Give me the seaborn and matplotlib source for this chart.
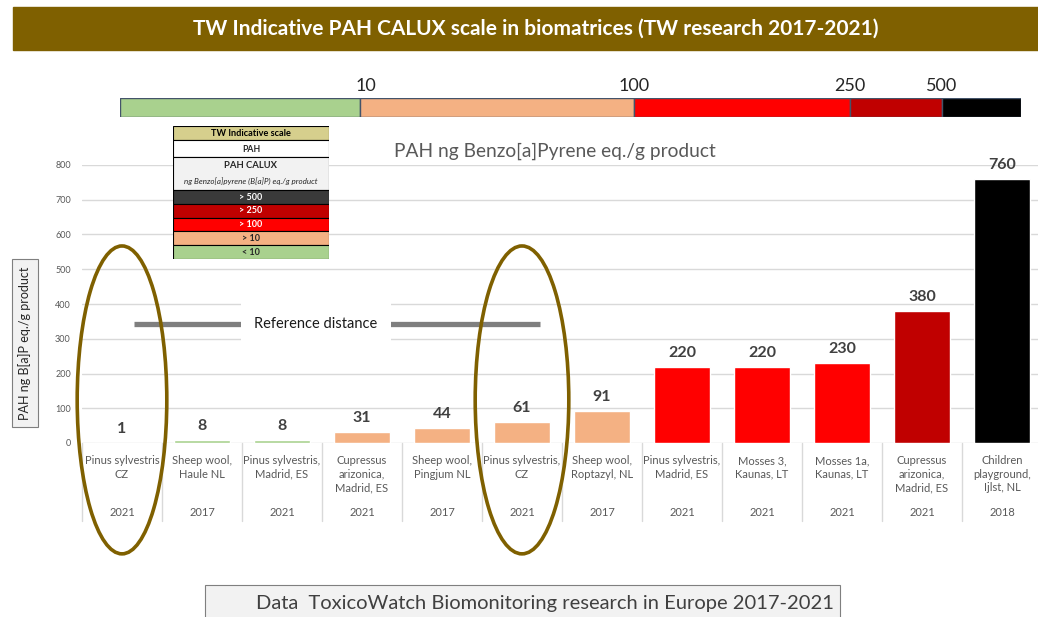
import numpy as np
import pandas as pd
import matplotlib
matplotlib.use("Agg")
import matplotlib.pyplot as plt
import matplotlib.transforms as mtransforms
from matplotlib.patches import Rectangle, Ellipse
import seaborn as sns

# ---- data -------------------------------------------------------------
samples = [
    "Pinus sylvestris\nCZ",
    "Sheep wool,\nHaule NL",
    "Pinus sylvestris,\nMadrid, ES",
    "Cupressus\narizonica,\nMadrid, ES",
    "Sheep wool,\nPingjum NL",
    "Pinus sylvestris,\nCZ",
    "Sheep wool,\nRoptazyl, NL",
    "Pinus sylvestris,\nMadrid, ES",
    "Mosses 3,\nKaunas, LT",
    "Mosses 1a,\nKaunas, LT",
    "Cupressus\narizonica,\nMadrid, ES",
    "Children\nplayground,\nIjlst, NL",
]
years = ["2021", "2017", "2021", "2021", "2017", "2021",
         "2017", "2021", "2021", "2021", "2021", "2018"]
pah_values = [1, 8, 8, 31, 44, 61, 91, 220, 220, 230, 380, 760]

scale_thresholds = [10, 100, 250, 500]
scale_colors = ["#A9D18E", "#F4B183", "#FF0000", "#C00000", "#000000"]
legend_labels = ["> 500", "> 250", "> 100", "> 10", "< 10"]
highlighted = [0, 5]

# ---- style --------------------------------------------------------------
sns.set_style("white")
plt.rcParams["font.family"] = ["Lato", "DejaVu Sans"]

W, H = 1038, 617
fig = plt.figure(figsize=(W / 100, H / 100), dpi=100)


def fx(px):
    return px / W


def fy(py):
    return 1 - py / H


BROWN = "#7F6000"
GREY_TXT = "#595959"
DARK_TXT = "#404040"
GRID = "#D9D9D9"

# ---- banner -------------------------------------------------------------
fig.patches.append(Rectangle((fx(13), fy(50)), fx(1038 - 13), 43 / H,
                             transform=fig.transFigure, color=BROWN, zorder=0))
fig.text(fx(536), fy(29), "TW Indicative PAH CALUX scale in biomatrices (TW research 2017-2021)",
         color="white", fontsize=15, fontweight="bold", ha="center", va="center")

# ---- colour scale strip -------------------------------------------------
ax_s = fig.add_axes([fx(120), fy(117), fx(901), 19 / H])
seg_edges = [0, 240, 514, 730, 822, 901]
ax_s.barh([0] * 5, np.diff(seg_edges), left=seg_edges[:-1], height=1,
          color=scale_colors, edgecolor="#44546A", linewidth=1)
ax_s.set_xlim(0, 901)
ax_s.set_ylim(-0.5, 0.5)
ax_s.axis("off")
for edge, thr in zip(seg_edges[1:5], scale_thresholds):
    ax_s.text(edge + (6 if thr == 10 else 0), 0.5 + 12 / 19, str(thr), ha="center",
              va="center", fontsize=13, color="#262626")

# ---- main bar chart -----------------------------------------------------
ax = fig.add_axes([fx(82), fy(443), fx(960), 278 / H])
df = pd.DataFrame({"idx": np.arange(len(pah_values)), "value": pah_values})
df["level"] = np.digitize(df["value"], scale_thresholds)
bar_colors = [scale_colors[l] for l in df["level"]]
sns.barplot(data=df, x="idx", y="value", hue="idx", palette=bar_colors,
            legend=False, width=0.7, saturation=1, ax=ax, zorder=2)
ax.set_ylim(0, 800)
ax.set_xlim(-0.5, len(pah_values) - 0.5)
ax.set_yticks(range(0, 801, 100))
ax.yaxis.grid(True, color=GRID, linewidth=1, zorder=0)
ax.set_axisbelow(True)
ax.tick_params(axis="y", length=0, pad=8, labelsize=6.5, labelcolor=GREY_TXT)
ax.set_xticks([])
ax.set_xlabel("")
ax.set_ylabel("")
for s in ax.spines.values():
    s.set_visible(False)

# value labels
for i, v in enumerate(pah_values):
    ax.annotate(str(v), (i, v), xytext=(0, 5), textcoords="offset points",
                ha="center", va="bottom", fontsize=11.5, fontweight="bold", color=DARK_TXT)

# category labels and separators
bt = mtransforms.blended_transform_factory(ax.transData, ax.transAxes)
for i, (lab, yr) in enumerate(zip(samples, years)):
    ax.text(i, -12 / 278, lab, transform=bt, ha="center", va="top",
            fontsize=8, color=GREY_TXT, linespacing=1.3)
    ax.text(i, -70 / 278, yr, transform=bt, ha="center", va="center",
            fontsize=8, color=GREY_TXT)
for i in range(len(pah_values) + 1):
    ax.plot([i - 0.5, i - 0.5], [0, -78 / 278], transform=bt, color=GRID,
            linewidth=1, clip_on=False, zorder=1)

# chart subtitle
fig.text(fx(555), fy(151), "PAH ng Benzo[a]Pyrene eq./g product",
         fontsize=13.8, color=GREY_TXT, ha="center", va="center")

# reference distance marker
ax.plot([0.15, 5.225], [342, 342], color="#7F7F7F", linewidth=3.8,
        solid_capstyle="butt", zorder=3)
ax.text(2.425, 342, "Reference distance", ha="center", va="center", fontsize=10.5,
        color="#1a1a1a", zorder=4,
        bbox=dict(boxstyle="square,pad=0.95", facecolor="white", edgecolor="none"))

# highlight ellipses
for i, w in zip(highlighted, [1.12, 1.17]):
    ax.add_patch(Ellipse((i, 124), w, 886, fill=False, edgecolor=BROWN,
                         linewidth=2.6, clip_on=False, zorder=5))

# y-axis label in a box
fig.text(fx(25), fy(343), "PAH ng B[a]P eq./g product", rotation=90,
         ha="center", va="center", fontsize=9, color="#262626",
         bbox=dict(boxstyle="square,pad=0.55", facecolor="#F2F2F2", edgecolor="#7F7F7F",
                   linewidth=0.8))

# ---- indicative scale table ---------------------------------------------
ax_l = fig.add_axes([fx(173), fy(259), fx(156), 133 / H])
ax_l.set_xlim(0, 156)
ax_l.set_ylim(259 - 126, 0)
ax_l.axis("off")


def row(y0, y1, fc, ec="black"):
    ax_l.add_patch(Rectangle((0, y0), 156, y1 - y0, facecolor=fc, edgecolor=ec,
                             linewidth=0.8))


row(0, 14, "#D6CF8D")
ax_l.text(78, 7, "TW Indicative scale", ha="center", va="center", fontsize=6.6,
          fontweight="bold", color="black")
row(14, 31, "white")
ax_l.text(78, 24, "PAH", ha="center", va="center", fontsize=6.3, fontweight="bold")
row(31, 64, "#F2F2F2")
ax_l.text(78, 39, "PAH CALUX", ha="center", va="center", fontsize=6.8, fontweight="bold")
ax_l.text(78, 55, "ng Benzo[a]pyrene (B[a]P) eq./g product", ha="center", va="center",
          fontsize=5.8, style="italic", color="#262626")
legend_fill = ["#3A3A3A", "#C00000", "#FF0000", "#F4B183", "#A9D18E"]
legend_txt = ["white", "white", "white", "#262626", "#262626"]
y = 64
for lab, fc, tc in zip(legend_labels, legend_fill, legend_txt):
    row(y, y + 13.8, fc)
    ax_l.text(78, y + 7, lab, ha="center", va="center", fontsize=6.5,
              fontweight="bold", color=tc)
    y += 13.8

# ---- footer ---------------------------------------------------------------
fig.patches.append(Rectangle((fx(205), fy(625)), fx(635), 40 / H,
                             transform=fig.transFigure, facecolor="#F2F2F2",
                             edgecolor="#7F7F7F", linewidth=0.8, zorder=0))
fig.text(fx(545), fy(604), "Data  ToxicoWatch Biomonitoring research in Europe 2017-2021",
         fontsize=14.5, color=DARK_TXT, ha="center", va="center")

fig.savefig("out.png", dpi=100)
